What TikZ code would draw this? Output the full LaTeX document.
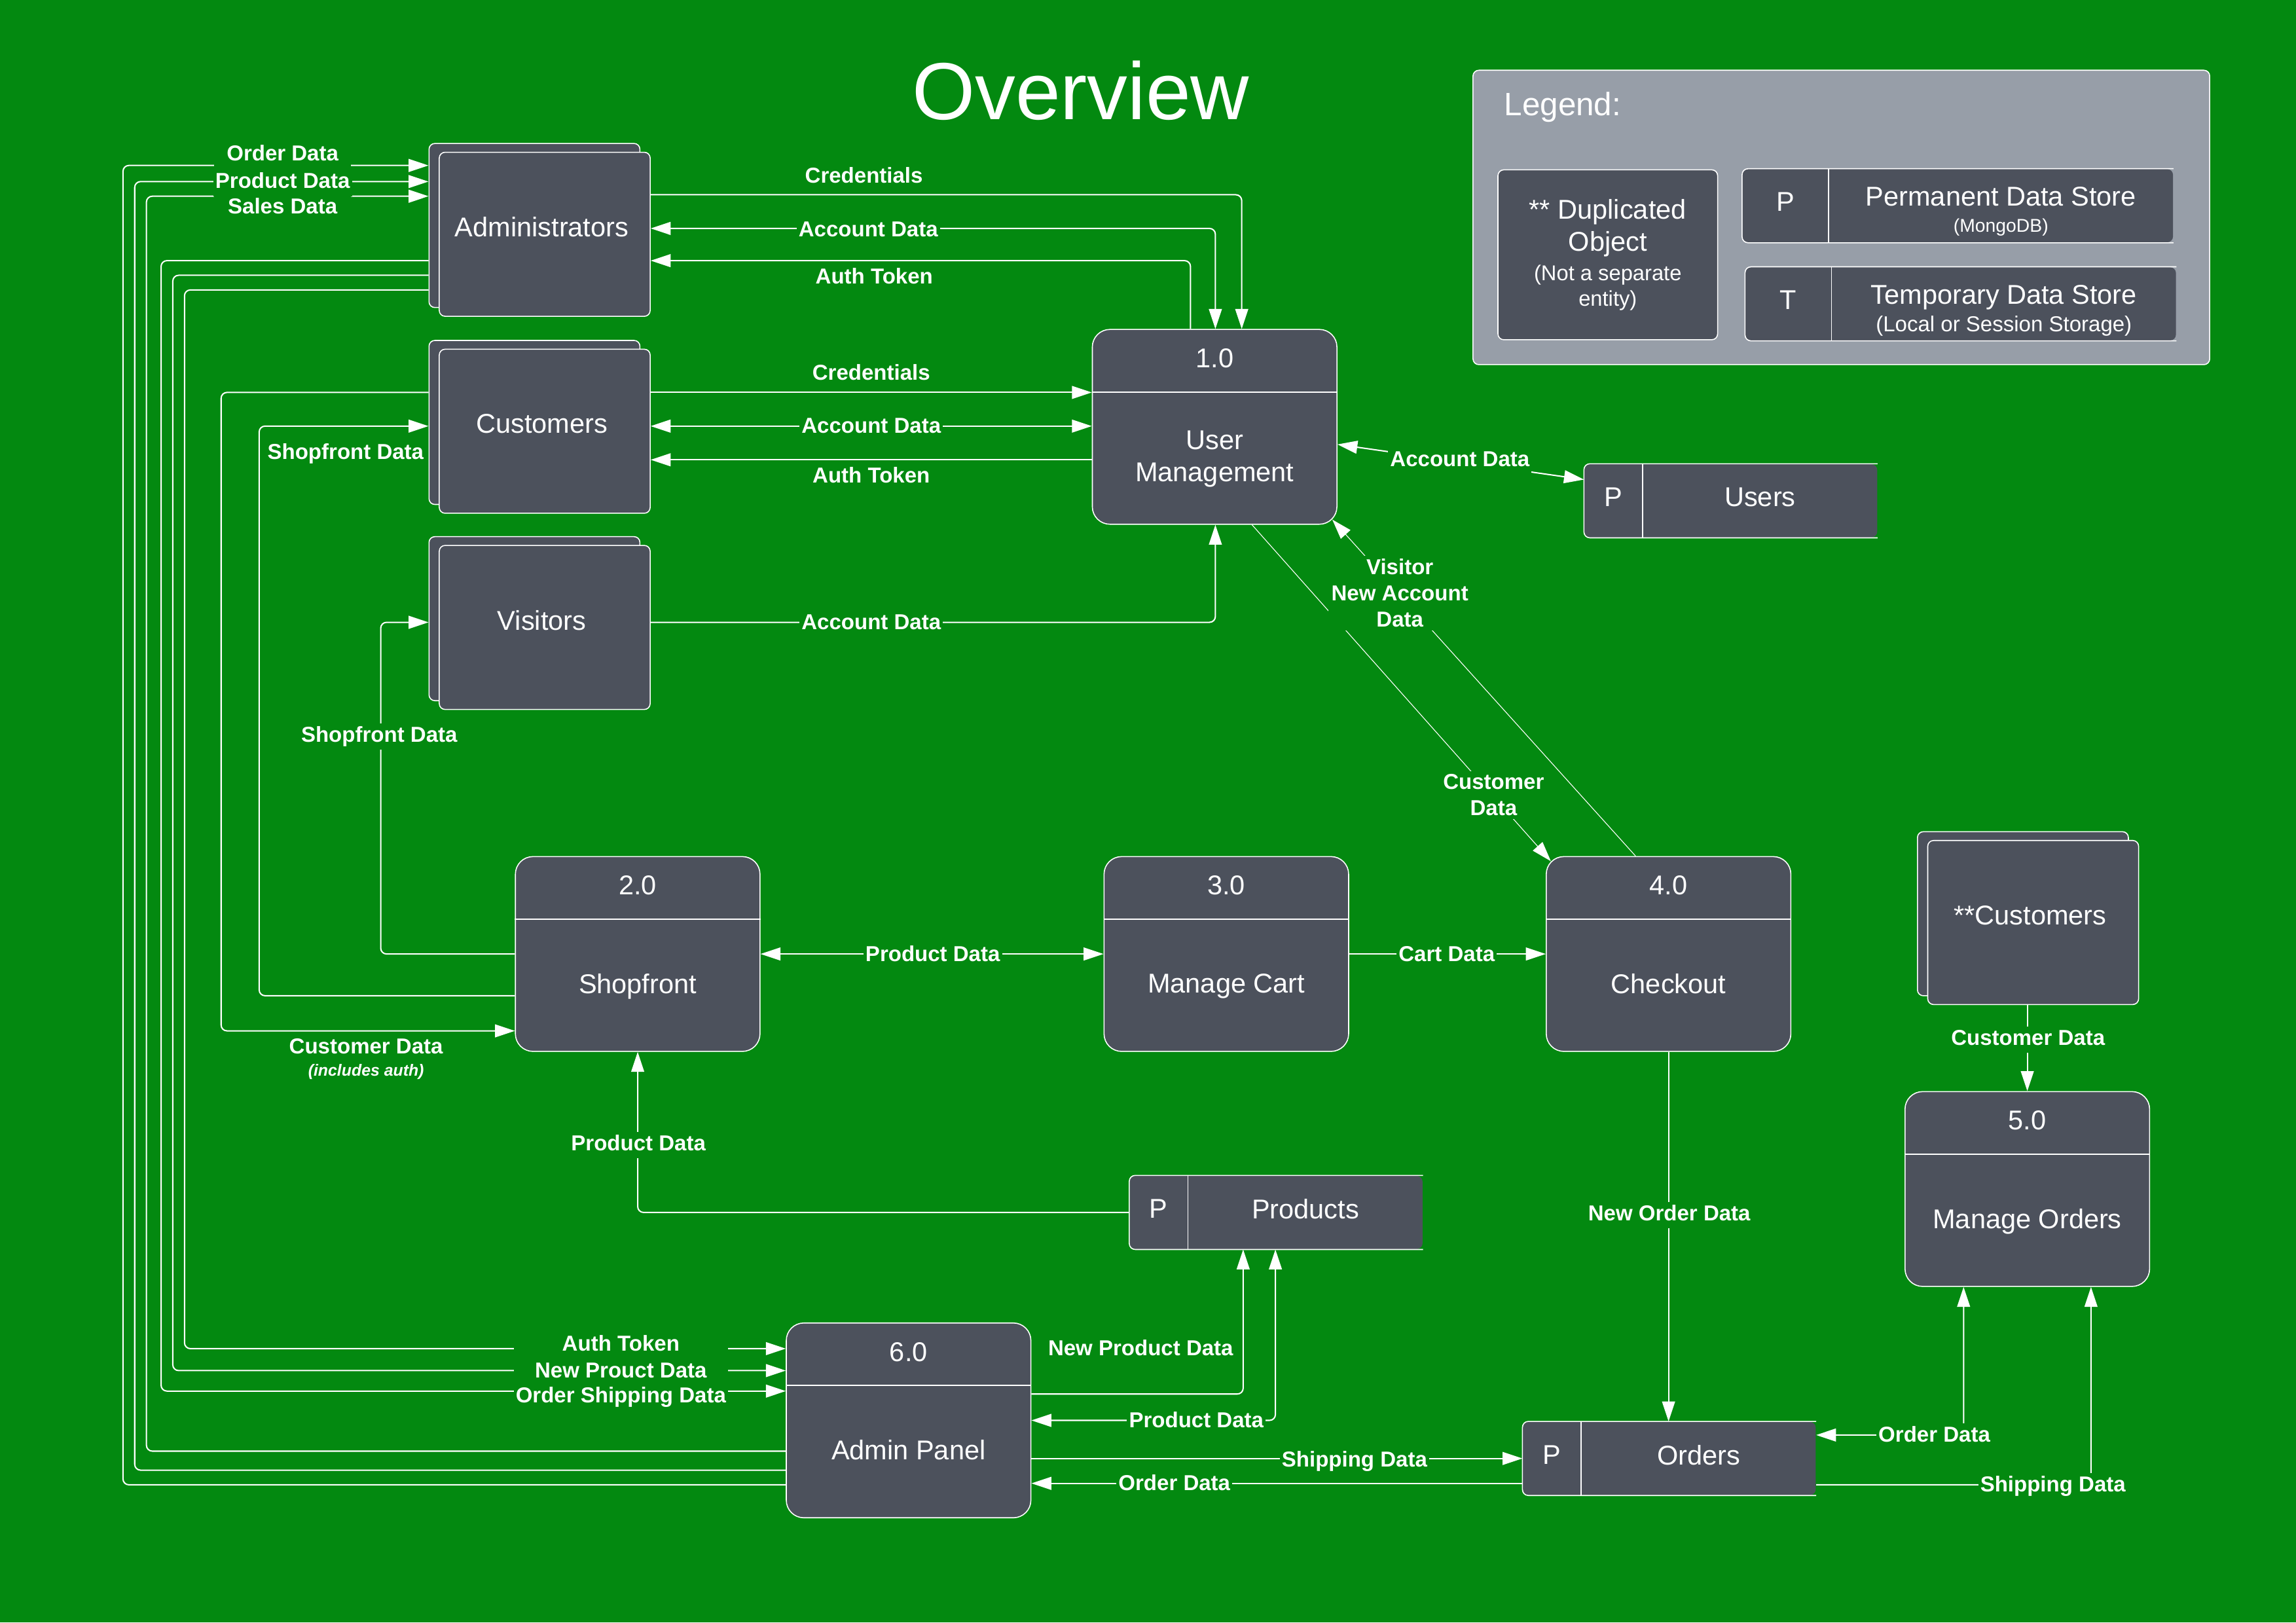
\documentclass[tikz,border=0pt]{standalone}
\usepackage{fontspec}
\setmainfont{Liberation Sans}
\usetikzlibrary{arrows.meta,calc}
\definecolor{bggreen}{RGB}{3,137,16}
\definecolor{boxgray}{RGB}{76,81,92}
\definecolor{leggray}{RGB}{151,158,168}
\tikzset{
  entbox/.style={draw=white, line width=0.5pt, fill=boxgray, rounded corners=0.1cm, minimum width=3.6cm, minimum height=2.8cm, inner sep=0pt},
  procbox/.style={draw=white, line width=0.5pt, fill=boxgray, rounded corners=0.3cm, minimum width=4.175cm, minimum height=3.325cm, inner sep=0pt},
  divider/.style={draw=white, line width=0.6pt},
  maintxt/.style={text=white, font=\fontsize{13.2}{15.6}\selectfont, align=center, inner sep=0pt, text depth=0pt},
  storebox/.style={fill=boxgray, rounded corners=0.1cm, minimum height=1.25cm, inner sep=0pt},
  storeline/.style={draw=white, line width=0.5pt, rounded corners=0.1cm},
  flow/.style={draw=white, line width=0.65pt, rounded corners=0.1cm},
  thinflow/.style={draw=white, line width=0.35pt},
  lbl/.style={text=white, font=\fontsize{10.5}{12.8}\selectfont\bfseries, fill=bggreen, inner xsep=1pt, inner ysep=1.5pt, text height=7.6pt, text depth=2.2pt, yshift=-1.4pt},
  lblnf/.style={lbl, fill=none},
  lblm/.style={text=white, font=\fontsize{10.5}{12.8}\selectfont\bfseries, fill=bggreen, inner sep=1.5pt, align=center, yshift=-1.4pt},
}
\newcommand{\ExtEnt}[4]{%
  \node[entbox] (#1b) at (#2-7,#3-6) {};
  \node[entbox] (#1) at (#2,#3) {};
  \node[maintxt] (#1t) at (#2-2,#3-5) {#4};
}
\newcommand{\ProcBox}[5]{%
  \node[procbox] (#1) at (#2,#3) {};
  \draw[divider] ($(#1.north west)+(0,43)$) -- ($(#1.north east)+(0,43)$);
  \node[maintxt] (#1n) at ($(#1.north)+(0,20)$) {#4};
  \node[maintxt] (#1l) at ($(#1.north)+(0,87)$) {#5};
}
\newcommand{\DStore}[7]{%
  \node[storebox, minimum width=#4*0.025cm] (#1) at (#2,#3) {};
  \draw[storeline] (#1.north east) -- (#1.north west) -- (#1.south west) -- (#1.south east);
  \draw[divider, line width=0.5pt] ($(#1.north west)+(#5,0)$) -- ($(#1.south west)+(#5,0)$);
  \node[maintxt] (#1p) at ($(#1.west)+(#5/2,-2.5)$) {#6};
  \node[maintxt] (#1l) at ($(#1.center)+(#5/2,-2.5)$) {#7};
}
\begin{document}
\begin{tikzpicture}[x=0.025cm, y=-0.025cm, >={Triangle[length=3.4mm,width=2.2mm]}]
\useasboundingbox (0,0) rectangle (1568,1108);
\fill[bggreen] (0,0) rectangle (1568,1108);

% title
\node[text=white, font=\fontsize{39.3}{47}\selectfont, inner sep=0pt] (title) at (738,62) {Overview};

% legend
\node[draw=white, line width=0.5pt, fill=leggray, rounded corners=0.1cm, minimum width=12.575cm, minimum height=5.025cm, inner sep=0pt] (legend) at (1257.5,148.5) {};
\node[anchor=west, text=white, font=\fontsize{15.7}{19}\selectfont, inner sep=0pt, text depth=0pt] (legtitle) at (1027,71) {Legend:};
\node[entbox, minimum width=3.75cm, minimum height=2.9cm] (legdup) at (1098,174) {};
\node[maintxt] (legdupa) at (1098,154) {** Duplicated\\Object};
\node[maintxt, font=\fontsize{10.4}{12.1}\selectfont] (legdupb) at (1098,195) {(Not a separate\\entity)};
\DStore{legp}{1337}{140.5}{294}{59}{P}{}
\node[maintxt] (legpa) at (1366.5,134) {Permanent Data Store};
\node[maintxt, font=\fontsize{9}{11}\selectfont] (legpb) at (1366.5,154) {(MongoDB)};
\DStore{legt}{1339}{207.5}{294}{59}{T}{}
\node[maintxt] (legta) at (1368.5,201) {Temporary Data Store};
\node[maintxt, font=\fontsize{10.5}{12}\selectfont] (legtb) at (1368.5,221) {(Local or Session Storage)};

% entities
\ExtEnt{adm}{372}{160}{Administrators}
\ExtEnt{cus}{372}{294.5}{Customers}
\ExtEnt{vis}{372}{428.5}{Visitors}
\ExtEnt{dcus}{1388.5}{630}{**Customers}

% processes
\ProcBox{p1}{829.5}{291.5}{1.0}{User\\Management}
\ProcBox{p2}{435.5}{651.5}{2.0}{Shopfront}
\ProcBox{p3}{837.5}{651.5}{3.0}{Manage Cart}
\ProcBox{p4}{1139.5}{651.5}{4.0}{Checkout}
\ProcBox{p5}{1384.5}{812}{5.0}{Manage Orders}
\ProcBox{p6}{620.5}{970}{6.0}{Admin Panel}

% data stores
\DStore{users}{1182}{342}{200}{40}{P}{Users}
\DStore{prods}{871.5}{828}{200}{40}{P}{Products}
\DStore{orders}{1140}{996}{200}{40}{P}{Orders}

% Administrators <-> 1.0
\draw[flow,->] (adm.east |- 0,133) -| (p1.north -| 848,0);
\draw[flow,<->] (adm.east |- 0,156) -| (p1.north -| 830,0);
\draw[flow,<-] (adm.east |- 0,178) -| (p1.north -| 813,0);
% Customers <-> 1.0
\draw[flow,->] (cus.east |- 0,268) -- (p1.west |- 0,268);
\draw[flow,<->] (cus.east |- 0,291) -- (p1.west |- 0,291);
\draw[flow,<-] (cus.east |- 0,314) -- (p1.west |- 0,314);
% Visitors -> 1.0
\draw[flow,->] (vis.east |- 0,425) -| (p1.south -| 830,0);
% 1.0 <-> Users
\draw[flow,<->] (p1.east |- 0,303.5) -- (users.west |- 0,327.5);
% diagonals
\draw[thinflow,->] (p4.north -| 1117,0) -- ($(p1.south east)+(-3.5,-3.5)$);
\draw[thinflow,->] (p1.south -| 855,0) -- ($(p4.north west)+(3.5,3.5)$);
% row of processes
\draw[flow,<->] (p2.east) -- (p3.west);
\draw[flow,->] (p3.east) -- (p4.west);
% Shopfront <-> visitors / customers
\draw[flow,->] (p2.west) -- (260,651.5) |- (visb.west |- 0,425);
\draw[flow,->] (p2.west |- 0,680) -- (177,680) |- (cusb.west |- 0,291);
\draw[flow,->] (cusb.west |- 0,268) -- (151,268) |- (p2.west |- 0,704);
\draw[flow,->] (prods.west) -| (p2.south);
% Administrators -> Admin Panel
\draw[flow,->] (admb.west |- 0,178) -- (110,178) |- (p6.west |- 0,950);
\draw[flow,->] (admb.west |- 0,188) -- (118,188) |- (p6.west |- 0,936);
\draw[flow,->] (admb.west |- 0,198) -- (126,198) |- (p6.west |- 0,921);
% Admin Panel -> Administrators
\draw[flow,->] (p6.west |- 0,991) -- (100,991) |- (admb.west |- 0,134);
\draw[flow,->] (p6.west |- 0,1004) -- (92,1004) |- (admb.west |- 0,124);
\draw[flow,->] (p6.west |- 0,1014) -- (84,1014) |- (admb.west |- 0,113);
% Admin Panel <-> Products / Orders
\draw[flow,->] (p6.east |- 0,952) -| (prods.south -| 849,0);
\draw[flow,<->] (p6.east |- 0,970) -| (prods.south -| 871,0);
\draw[flow,->] (p6.east |- 0,996) -- (orders.west |- 0,996);
\draw[flow,<-] (p6.east |- 0,1013) -- (orders.west |- 0,1013);
% Checkout -> Orders
\draw[flow,->] (p4.south) -- (orders.north -| p4.south);
% **Customers -> 5.0
\draw[flow,->] (p5.north |- dcus.south) -- (p5.north);
% Orders <-> 5.0
\draw[flow,<->] (orders.east |- 0,980) -| (p5.south -| 1341,0);
\draw[flow,->] (orders.east |- 0,1014) -| (p5.south -| 1428,0);

% labels
\node[lblnf] (la1) at (590,119) {Credentials};
\node[lbl] (la2) at (593,156) {Account Data};
\node[lblnf] (la3) at (597,188) {Auth Token};
\node[lblnf] (lc1) at (595,254) {Credentials};
\node[lbl] (lc2) at (595,290) {Account Data};
\node[lblnf] (lc3) at (595,324) {Auth Token};
\node[lbl] (lv1) at (595,424) {Account Data};
\node[lbl] (lu1) at (997,313) {Account Data};
\node[lblm] (lvan) at (956,403) {Visitor\\New Account\\Data};
\node[lblm] (lcd) at (1020,541) {Customer\\Data};
\node[lbl] (lpd23) at (637,651) {Product Data};
\node[lbl] (lcart) at (988,651) {Cart Data};
\node[lbl] (lsf1) at (259,501) {Shopfront Data};
\node[lblnf] (lsf2) at (236,308) {Shopfront Data};
\node[lblnf] (lcd2) at (250,714) {Customer Data};
\node[text=white, font=\fontsize{7.9}{9}\selectfont\bfseries\itshape, inner sep=0pt] (linc) at (250,732) {(includes auth)};
\node[lbl] (lpdp) at (436,780) {Product Data};
\node[lbl, minimum width=3.65cm] (lat) at (424,917) {Auth Token};
\node[lbl, minimum width=3.65cm] (lnpd) at (424,935) {New Prouct Data};
\node[lbl, minimum width=3.65cm] (losd) at (424,952) {Order Shipping Data};
\node[lbl, minimum width=2.33cm, inner ysep=3pt] (lod) at (193,104) {Order Data};
\node[lbl, minimum width=2.33cm, inner ysep=3pt] (lsd) at (193,140) {Sales Data};
\node[lbl, minimum width=2.33cm] (lprd) at (193,123) {Product Data};
\node[lblnf] (lnewpd) at (779,920) {New Product Data};
\node[lbl] (lpd6) at (817,969) {Product Data};
\node[lbl] (lship6) at (925,996) {Shipping Data};
\node[lbl] (lord6) at (802,1012) {Order Data};
\node[lbl] (lnod) at (1140,828) {New Order Data};
\node[lbl] (lcd5) at (1385,708) {Customer Data};
\node[lbl] (lod5) at (1321,979) {Order Data};
\node[lbl] (lsd5) at (1402,1013) {Shipping Data};
\end{tikzpicture}
\end{document}
